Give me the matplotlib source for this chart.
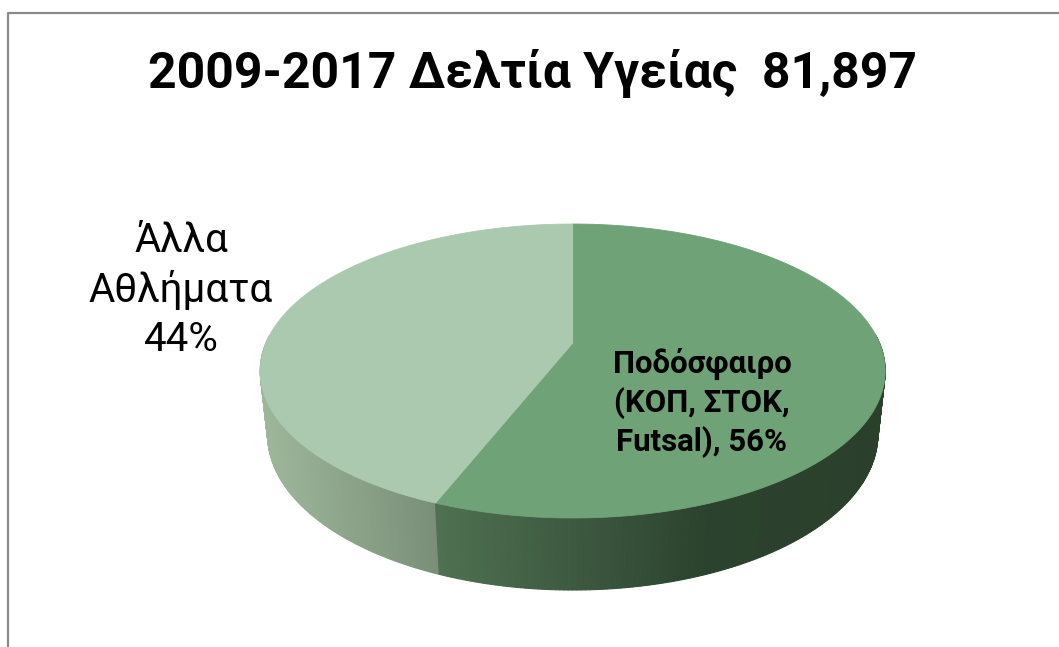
import numpy as np
import matplotlib
matplotlib.use("Agg")
import matplotlib.pyplot as plt
from matplotlib.patches import Polygon

plt.rcParams['font.family'] = ['Roboto', 'DejaVu Sans']

# data
title = "2009-2017 Δελτία Υγείας  81,897"
labels = ["Ποδόσφαιρο\n(ΚΟΠ, ΣΤΟΚ,\nFutsal), 56%", "Άλλα\nΑθλήματα\n44%"]
shares = [56, 44]

# styles
top_colors = ["#6fa277", "#abc9ae"]
wall_stops = [
    [(0.0, (0.31, 0.44, 0.32)), (0.6, (0.17, 0.26, 0.18)), (1.0, (0.17, 0.25, 0.17))],
    [(0.0, (0.62, 0.72, 0.61)), (1.0, (0.48, 0.56, 0.47))],
]

W, H = 1059, 647
fig = plt.figure(figsize=(W / 100, H / 100), dpi=100)
ax = fig.add_axes([0, 0, 1, 1])
ax.set_xlim(0, W)
ax.set_ylim(H, 0)
ax.axis('off')

# frame of the chart area
ax.plot([8, 8, W + 5], [H + 5, 13, 13], color='#8a8a8a', lw=1.6, solid_capstyle='butt')

# simple perspective camera for the 3d pie
phi = np.radians(27.5)
s, c = np.sin(phi), np.cos(phi)
D, f = 4.657, 1428.6
cx, cy = 572.7, 343.0
thick = 0.2355


def proj(X, Y, Z=0.0):
    depth = D + Y * c - Z * s
    return cx + f * X / depth, cy - f * (Y * s + Z * c) / depth


def grad(stops, t):
    t = min(max(t, 0), 1)
    for (t0, c0), (t1, c1) in zip(stops[:-1], stops[1:]):
        if t <= t1:
            u = (t - t0) / (t1 - t0) if t1 > t0 else 0
            return tuple(a + (b - a) * u for a, b in zip(c0, c1))
    return stops[-1][1]


total = sum(shares)
starts = []
a = 90.0
for v in shares:
    a1 = a - 360.0 * v / total
    starts.append((a, a1))
    a = a1

# walls first (front half only), back to front
segs = []
for i, (a0, a1) in enumerate(starts):
    t = np.radians(np.linspace(a0, a1, 300))
    for k in range(len(t) - 1):
        tm = 0.5 * (t[k] + t[k + 1])
        if np.sin(tm) > 0.05:
            continue
        segs.append((np.sin(tm), i, t[k], t[k + 1]))

# x range of the visible wall of each slice, for the gradient
xr = {}
for _, i, t0, t1 in segs:
    x0, _ = proj(np.cos(t0), np.sin(t0))
    lo, hi = xr.get(i, (1e9, -1e9))
    xr[i] = (min(lo, x0), max(hi, x0))

segs.sort(key=lambda q: -q[0])
for _, i, t0, t1 in segs:
    pts = [proj(np.cos(t0), np.sin(t0)), proj(np.cos(t1), np.sin(t1)),
           proj(np.cos(t1), np.sin(t1), -thick), proj(np.cos(t0), np.sin(t0), -thick)]
    xm = 0.5 * (pts[0][0] + pts[1][0])
    lo, hi = xr[i]
    col = grad(wall_stops[i], (xm - lo) / (hi - lo))
    ax.add_patch(Polygon(pts, closed=True, facecolor=col, edgecolor=col, lw=0.8))

# top faces
for i, (a0, a1) in enumerate(starts):
    t = np.radians(np.linspace(a0, a1, 400))
    pts = [proj(0, 0)] + [proj(np.cos(q), np.sin(q)) for q in t]
    ax.add_patch(Polygon(pts, closed=True, facecolor=top_colors[i],
                         edgecolor=top_colors[i], lw=0.6))

# texts
t_title = ax.text(533, 73, title, ha='center', va='center', fontsize=34,
                  fontweight='bold', color='black')
t_in = ax.text(702, 403, labels[0], ha='center', va='center', fontsize=18,
               fontweight='bold', color='black', linespacing=1.3)
t_out = ax.text(181, 290, labels[1], ha='center', va='center', fontsize=27,
                color='black', linespacing=1.32)

fig.canvas.draw()
r = fig.canvas.get_renderer()
for txt, width in [(t_title, 770), (t_in, 180), (t_out, 184)]:
    w = txt.get_window_extent(r).width
    txt.set_fontsize(txt.get_fontsize() * width / w)

fig.savefig("out.png", dpi=100)
